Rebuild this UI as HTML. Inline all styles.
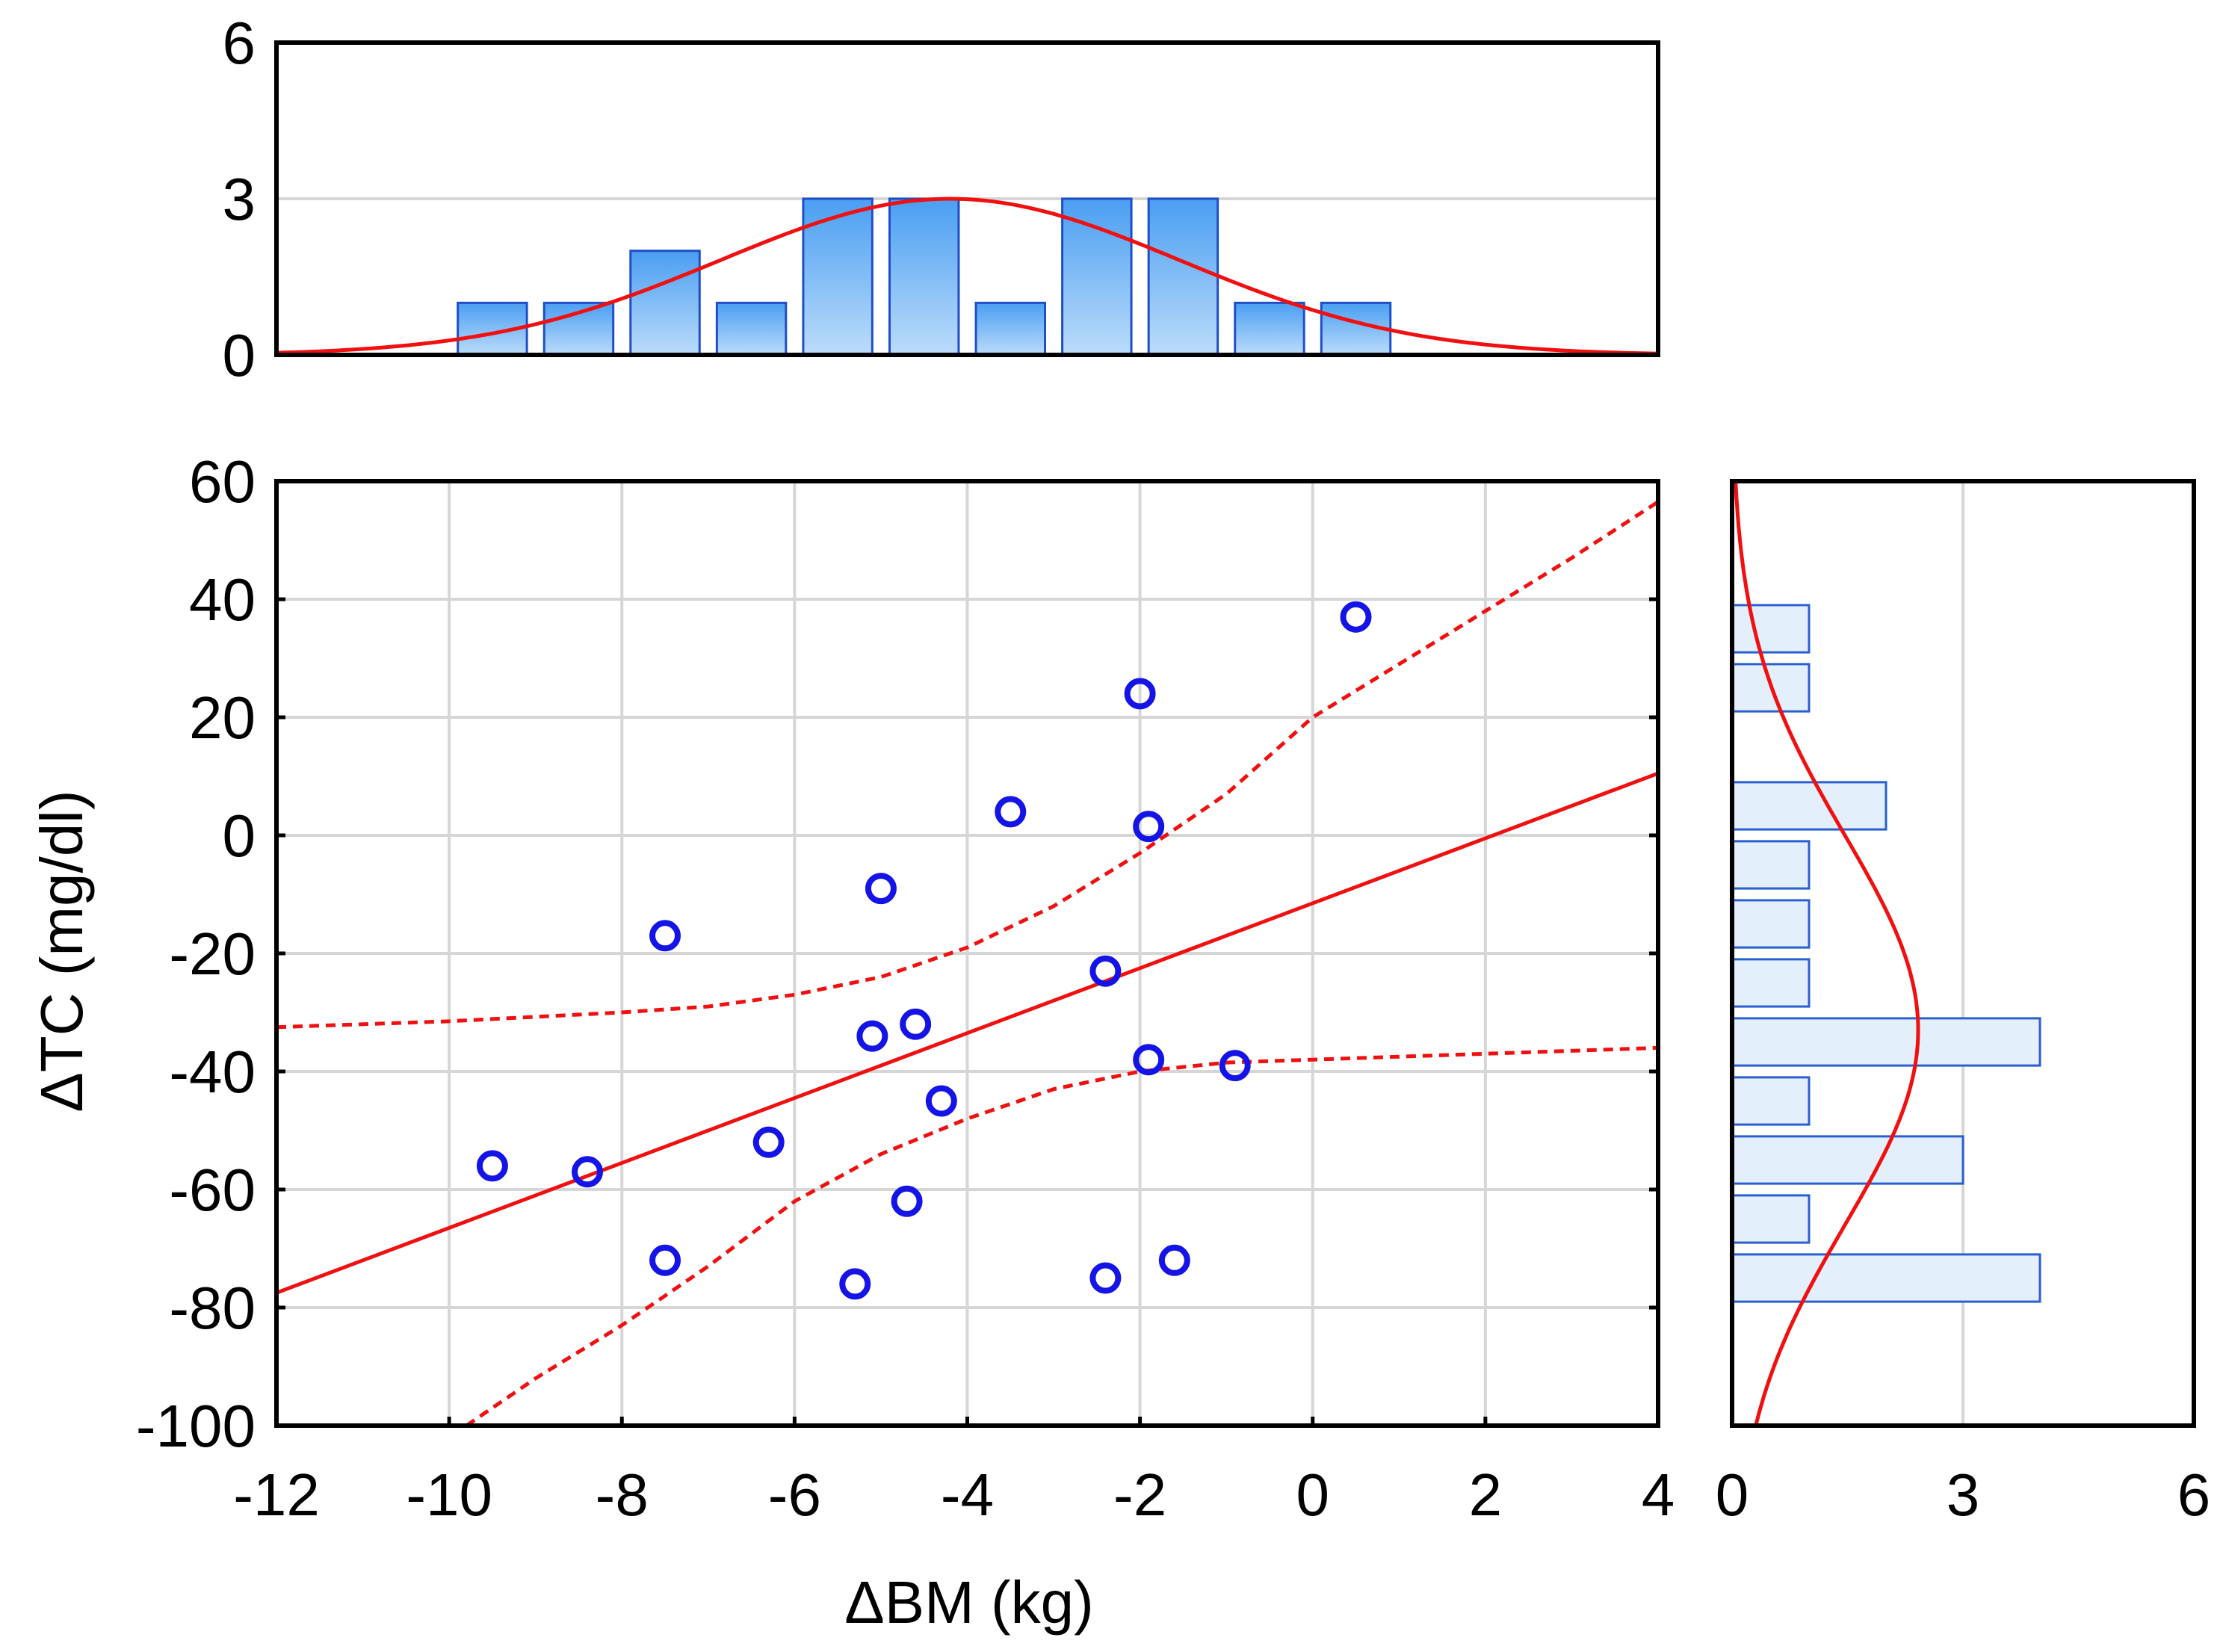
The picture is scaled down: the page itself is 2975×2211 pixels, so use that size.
<!DOCTYPE html>
<html><head><meta charset="utf-8"><style>
html,body{margin:0;padding:0;background:#fff;}
svg{display:block;font-family:"Liberation Sans",sans-serif;}
</style></head><body>
<svg id="chart" width="2975" height="2211" viewBox="0 0 2975 2211">
<defs><linearGradient id="barGrad" x1="0" y1="0" x2="0" y2="1"><stop offset="0" stop-color="#4a9ef2"/><stop offset="1" stop-color="#bcdcfa"/></linearGradient></defs>
<g id="grid"></g><g id="marks"></g><g id="axes"></g>
<text x="1297" y="2172" font-size="80" text-anchor="middle">ΔBM (kg)</text>
<text transform="translate(110,1273) rotate(-90)" font-size="80" text-anchor="middle">ΔTC (mg/dl)</text>
</svg>
<script>
const ptX = [0.5,-2,-3.5,-1.9,-5,-7.5,-2.4,-4.6,-5.1,-1.9,-0.9,-4.3,-6.3,-9.5,-8.4,-4.7,-7.5,-1.6,-5.3,-2.4];
const ptY = [37,24,4,1.5,-9,-17,-23,-32,-34,-38,-39,-45,-52,-56,-57,-62,-72,-72,-76,-75];
const fitX = [-12,4];
const fitY = [-77.5,10.5];
const upX = [-12,-10,-8,-7,-6,-5,-4,-3,-2,-1,0,1,2,3,4];
const upY = [-32.5,-31.5,-30,-29,-27,-24,-19,-12,-3,7,20,29,38,47,56.5];
const loX = [-9.8,-9,-8,-7,-6,-5,-4,-3,-2,-1,0,2,4];
const loY = [-100,-92,-83,-73,-62,-54,-48,-43,-40,-38.5,-38,-37,-36];
const xHistCenters = [-9.5,-8.5,-7.5,-6.5,-5.5,-4.5,-3.5,-2.5,-1.5,-0.5,0.5];
const xHistCounts = [1,1,2,1,3,3,1,3,3,1,1];
const xNormMean = -4.2, xNormSd = 2.66;
const yHistCenters = [35,25,5,-5,-15,-25,-35,-45,-55,-65,-75];
const yHistCounts = [1,1,2,1,1,1,4,1,3,1,4];
const yNormMean = -33, yNormSd = 33;
const xTicks = [-12,-10,-8,-6,-4,-2,0,2,4];
const yTicks = [60,40,20,0,-20,-40,-60,-80,-100];
const histTicks = [0,3,6];

const NS="http://www.w3.org/2000/svg";
const L=370,R=2219,T=644,B=1908, HT=57,HB=475, RL=2318,RR=2936;
const sx=v=>L+(v+12)/16*(R-L);
const sy=v=>T+(60-v)/160*(B-T);
const hy=v=>HB-v/6*(HB-HT);
const hx=v=>RL+v/6*(RR-RL);
function el(tag,attrs,parent){const e=document.createElementNS(NS,tag);for(const k in attrs)e.setAttribute(k,attrs[k]);parent.appendChild(e);return e;}
const grid=document.getElementById('grid'),marks=document.getElementById('marks'),axes=document.getElementById('axes');
xTicks.forEach(v=>{const g=el('line',{x1:sx(v),x2:sx(v),y1:T,y2:B,stroke:'#d6d6d6','stroke-width':4},grid);});
yTicks.forEach(v=>{const g=el('line',{x1:L,x2:R,y1:sy(v),y2:sy(v),stroke:'#d6d6d6','stroke-width':4},grid);});
el('line',{x1:L,x2:R,y1:hy(3),y2:hy(3),stroke:'#d6d6d6','stroke-width':4},grid);
el('line',{x1:hx(3),x2:hx(3),y1:T,y2:B,stroke:'#d6d6d6','stroke-width':4},grid);
xHistCenters.forEach((c,i)=>{const r=el('rect',{x:sx(c-0.4),y:hy(xHistCounts[i]),width:sx(c+0.4)-sx(c-0.4),height:HB-hy(xHistCounts[i]),fill:'url(#barGrad)',stroke:'#1f4fc8','stroke-width':3},marks);

});
let d='';for(let x=-12;x<=4.001;x+=0.1){const v=20/(xNormSd*Math.sqrt(2*Math.PI))*Math.exp(-0.5*((x-xNormMean)/xNormSd)**2);d+=(d?'L':'M')+sx(x).toFixed(1)+','+hy(v).toFixed(1);}
const c1=el('path',{d:d,fill:'none',stroke:'#f01010','stroke-width':5},marks);
yHistCenters.forEach((c,i)=>{const r=el('rect',{x:RL,y:sy(c+4),width:hx(yHistCounts[i])-RL,height:sy(c-4)-sy(c+4),fill:'#e4effc',stroke:'#2a5fd0','stroke-width':3},marks);

});
d='';for(let y=60;y>=-100;y-=1){const v=200/(yNormSd*Math.sqrt(2*Math.PI))*Math.exp(-0.5*((y-yNormMean)/yNormSd)**2);d+=(d?'L':'M')+hx(v).toFixed(1)+','+sy(y).toFixed(1);}
const c2=el('path',{d:d,fill:'none',stroke:'#f01010','stroke-width':5},marks);
const fl=el('line',{x1:sx(fitX[0]),y1:sy(fitY[0]),x2:sx(fitX[1]),y2:sy(fitY[1]),stroke:'#f01010','stroke-width':5},marks);
const u=el('path',{d:upX.map((x,i)=>(i?'L':'M')+sx(x)+','+sy(upY[i])).join(''),fill:'none',stroke:'#f01010','stroke-width':5,'stroke-dasharray':'13 9'},marks);
const lo=el('path',{d:loX.map((x,i)=>(i?'L':'M')+sx(x)+','+sy(loY[i])).join(''),fill:'none',stroke:'#f01010','stroke-width':5,'stroke-dasharray':'13 9'},marks);
ptX.forEach((x,i)=>{const p=el('circle',{cx:sx(x),cy:sy(ptY[i]),r:17,fill:'none',stroke:'#1414e6','stroke-width':8},marks);

});
[[L,T,R,B,'main-plot-frame'],[L,HT,R,HB,'top-histogram-frame'],[RL,T,RR,B,'right-histogram-frame']].forEach(f=>{const r=el('rect',{x:f[0],y:f[1],width:f[2]-f[0],height:f[3]-f[1],fill:'none',stroke:'#000','stroke-width':6},axes);});
xTicks.forEach(v=>{const t=el('text',{x:sx(v),y:2028,'font-size':80,'text-anchor':'middle'},axes);t.textContent=v;
el('line',{x1:sx(v),x2:sx(v),y1:B,y2:B-12,stroke:'#000','stroke-width':5},axes);});
yTicks.forEach(v=>{const t=el('text',{x:342,y:sy(v)+28,'font-size':80,'text-anchor':'end'},axes);t.textContent=v;
el('line',{x1:L,x2:L+12,y1:sy(v),y2:sy(v),stroke:'#000','stroke-width':5},axes);el('line',{x1:R,x2:R-12,y1:sy(v),y2:sy(v),stroke:'#000','stroke-width':5},axes);});
histTicks.forEach(v=>{const t=el('text',{x:342,y:hy(v)+28,'font-size':80,'text-anchor':'end'},axes);t.textContent=v;
const t2=el('text',{x:hx(v),y:2028,'font-size':80,'text-anchor':'middle'},axes);t2.textContent=v;});
</script>
</body></html>
